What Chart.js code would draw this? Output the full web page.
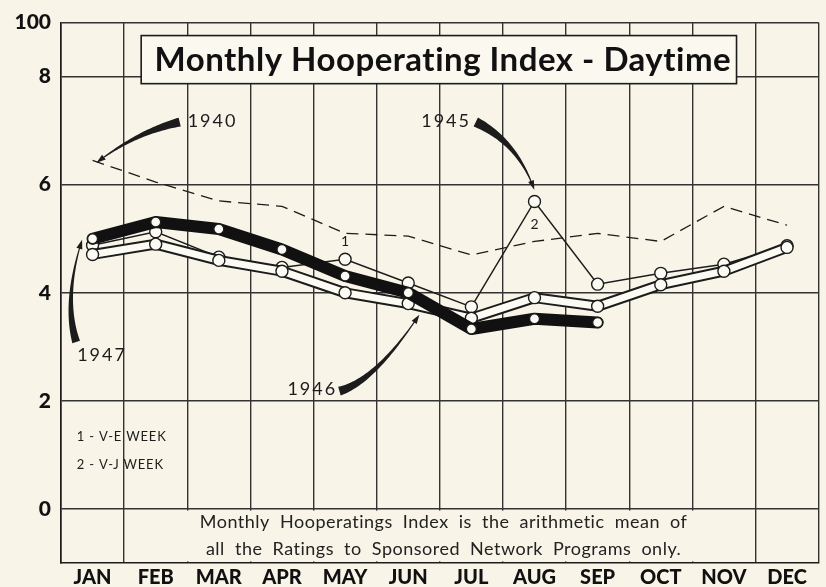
<!DOCTYPE html>
<html>
<head>
<meta charset="utf-8">
<title>Monthly Hooperating Index - Daytime</title>
<script src="https://cdn.jsdelivr.net/npm/chart.js@4.4.0/dist/chart.umd.min.js"></script>
<style>
  html, body { margin: 0; padding: 0; background: #f8f5e8; }
</style>
</head>
<body>
<canvas id="hooper" width="826" height="587"></canvas>
<script>
// 1. DATA
const months = ['JAN', 'FEB', 'MAR', 'APR', 'MAY', 'JUN', 'JUL', 'AUG', 'SEP', 'OCT', 'NOV', 'DEC'];
const y1940 = [6.45, 6.05, 5.7, 5.6, 5.1, 5.05, 4.7, 4.95, 5.1, 4.95, 5.6, 5.25];
const y1945 = [4.88, 5.13, 4.66, 4.47, 4.62, 4.18, 3.74, 5.69, 4.16, 4.36, 4.53, 4.87];
const y1946 = [4.71, 4.9, 4.6, 4.4, 4.0, 3.8, 3.53, 3.91, 3.75, 4.15, 4.4, 4.84];
const y1947 = [5.0, 5.31, 5.18, 4.8, 4.31, 4.0, 3.33, 3.52, 3.45, null, null, null];
const yTicks = [0, 2, 4, 6, 8, 9];
const yTickLabels = ['0', '2', '4', '6', '8', '100'];

const BG = '#f8f5e8';
const INK = '#1c1c1c';
const FONT = 'Lato, "DejaVu Sans", sans-serif';

// notes, placed in (month index, value) units
const arrows = [
  { label: '1940', at: [1.90, 7.18], tail: [1.38, 7.16], ctrl: [0.70, 6.97], tip: [0.10, 6.44], w: 8 },
  { label: '1945', at: [5.60, 7.18], tail: [6.07, 7.16], ctrl: [6.71, 6.80], tip: [6.98, 5.96], w: 9 },
  { label: '1946', at: [3.48, 2.22], tail: [3.91, 2.18], ctrl: [4.47, 2.37], tip: [5.15, 3.55], w: 8 },
  { label: '1947', at: [0.15, 2.85], tail: [-0.26, 3.09], ctrl: [-0.46, 3.86], tip: [-0.18, 4.93], w: 7 }
];
const titleBox = { x0: 0.77, x1: 10.2, y0: 8.76, y1: 7.87 };
const footLines = ['Monthly Hooperatings Index is the arithmetic mean of',
                   'all the Ratings to Sponsored Network Programs only.'];
const legendLines = ['1 - V-E WEEK', '2 - V-J WEEK'];

// 2. HELPERS
function at(chart, i, v) {
  const xs = chart.scales.x, ys = chart.scales.y;
  const step = xs.getPixelForValue(1) - xs.getPixelForValue(0);
  return { x: xs.getPixelForValue(0) + i * step, y: ys.getPixelForValue(v) };
}

function taperArrow(c, p0, cp, p2, w0) {
  const N = 40, left = [], right = [];
  for (let k = 0; k <= N; k++) {
    const t = k / N, u = 1 - t;
    const x = u * u * p0.x + 2 * u * t * cp.x + t * t * p2.x;
    const y = u * u * p0.y + 2 * u * t * cp.y + t * t * p2.y;
    const dx = 2 * u * (cp.x - p0.x) + 2 * t * (p2.x - cp.x);
    const dy = 2 * u * (cp.y - p0.y) + 2 * t * (p2.y - cp.y);
    const len = Math.hypot(dx, dy) || 1;
    const w = (w0 * Math.pow(u, 1.3) + 1) / 2;
    left.push([x - dy / len * w, y + dx / len * w]);
    right.push([x + dy / len * w, y - dx / len * w]);
  }
  c.beginPath();
  left.forEach((p, k) => k ? c.lineTo(p[0], p[1]) : c.moveTo(p[0], p[1]));
  right.reverse().forEach(p => c.lineTo(p[0], p[1]));
  c.closePath();
  c.fill();
  // small head
  const ang = Math.atan2(p2.y - cp.y, p2.x - cp.x);
  c.beginPath();
  c.moveTo(p2.x + Math.cos(ang) * 3, p2.y + Math.sin(ang) * 3);
  c.lineTo(p2.x - Math.cos(ang - 0.45) * 7, p2.y - Math.sin(ang - 0.45) * 7);
  c.lineTo(p2.x - Math.cos(ang + 0.45) * 7, p2.y - Math.sin(ang + 0.45) * 7);
  c.closePath();
  c.fill();
}

// 3. PLUGIN: paper, title box, footer, notes
const paper = {
  id: 'paper',
  beforeDraw(chart) {
    const c = chart.ctx;
    c.save();
    c.fillStyle = BG;
    c.fillRect(0, 0, chart.width, chart.height);
    c.restore();
  },
  beforeDatasetsDraw(chart) {
    const c = chart.ctx;
    c.save();
    // title box
    const a = at(chart, titleBox.x0, titleBox.y0), b = at(chart, titleBox.x1, titleBox.y1);
    c.fillStyle = '#faf8ef';
    c.fillRect(a.x, a.y, b.x - a.x, b.y - a.y);
    c.strokeStyle = INK;
    c.lineWidth = 1.6;
    c.strokeRect(a.x, a.y, b.x - a.x, b.y - a.y);
    c.fillStyle = '#111';
    c.font = 'bold 33px ' + FONT;
    c.letterSpacing = '0.5px';
    c.textAlign = 'center';
    c.textBaseline = 'middle';
    c.fillText('Monthly Hooperating Index - Daytime', (a.x + b.x) / 2 + 4, (a.y + b.y) / 2 + 1);
    c.letterSpacing = '0px';

    // footer panel below zero line
    const f0 = at(chart, 0.52, -0.03), f1 = at(chart, 10.45, -0.97);
    c.fillStyle = BG;
    c.fillRect(f0.x, f0.y, f1.x - f0.x, f1.y - f0.y);
    c.fillStyle = '#222';
    c.font = '18px ' + FONT;
    c.letterSpacing = '0.5px';
    c.wordSpacing = '5px';
    footLines.forEach((t, k) => {
      const p = at(chart, 5.56, -0.24 - k * 0.51);
      c.fillText(t, p.x, p.y);
    });
    c.wordSpacing = '0px';
    c.letterSpacing = '0px';
    c.restore();
  },
  afterDatasetsDraw(chart) {
    const c = chart.ctx;
    c.save();
    c.fillStyle = INK;
    c.textAlign = 'center';
    c.textBaseline = 'middle';
    c.font = '18px ' + FONT;
    c.letterSpacing = '2px';
    arrows.forEach(n => {
      const p = at(chart, n.at[0], n.at[1]);
      c.fillText(n.label, p.x, p.y);
      taperArrow(c, at(chart, n.tail[0], n.tail[1]), at(chart, n.ctrl[0], n.ctrl[1]),
                 at(chart, n.tip[0], n.tip[1]), n.w);
    });
    c.letterSpacing = '0px';
    // V-E / V-J marks on 1945
    c.font = '14px ' + FONT;
    let p = at(chart, 4, y1945[4] + 0.33);
    c.fillText('1', p.x, p.y);
    p = at(chart, 7, y1945[7] - 0.42);
    c.fillText('2', p.x, p.y);
    // key
    c.textAlign = 'left';
    c.font = '13px ' + FONT;
    c.letterSpacing = '0.8px';
    legendLines.forEach((t, k) => {
      const q = at(chart, -0.25, 1.33 - k * 0.51);
      c.fillText(t, q.x, q.y);
    });
    c.restore();
  }
};

// 4. CHART
const pointStyle = { pointBackgroundColor: '#fbfaf3', pointBorderColor: INK, pointBorderWidth: 1.4 };

new Chart(document.getElementById('hooper'), {
  type: 'line',
  data: {
    labels: months,
    datasets: [
      { label: '1940', data: y1940, borderColor: INK, borderWidth: 1.3, borderDash: [12, 7],
        pointRadius: 0, order: 6 },
      Object.assign({ label: '1945', data: y1945, borderColor: INK, borderWidth: 1.5,
        pointRadius: 6, order: 5 }, pointStyle),
      { label: '1946 edge', data: y1946, borderColor: INK, borderWidth: 11, pointRadius: 0,
        borderJoinStyle: 'round', order: 4 },
      Object.assign({ label: '1946', data: y1946, borderColor: '#fbfaf3', borderWidth: 7,
        pointRadius: 6, borderJoinStyle: 'round', order: 3 }, pointStyle),
      Object.assign({ label: '1947', data: y1947, borderColor: '#111', borderWidth: 12,
        pointRadius: 5, borderJoinStyle: 'round', borderCapStyle: 'round', order: 2 }, pointStyle)
    ]
  },
  options: {
    responsive: false,
    animation: false,
    events: [],
    layout: { padding: { top: 13, right: 1, left: 0, bottom: 0 } },
    plugins: { legend: { display: false }, tooltip: { enabled: false } },
    scales: {
      x: {
        offset: true,
        grid: { offset: true, color: '#333', lineWidth: 1.4, drawTicks: false },
        border: { color: INK, width: 1.6 },
        ticks: { color: '#111', font: { family: FONT, size: 20, weight: '900' }, padding: 3,
                 maxRotation: 0, autoSkip: false },
        afterFit: s => { s.height = 24; }
      },
      y: {
        min: -1, max: 9,
        afterBuildTicks: s => { s.ticks = yTicks.map(v => ({ value: v })); },
        grid: { color: '#333', lineWidth: 1.4, drawTicks: false },
        border: { color: INK, width: 1.6 },
        ticks: { color: '#111', font: { family: FONT, size: 21, weight: '900' }, padding: 10,
                 callback: v => yTickLabels[yTicks.indexOf(v)] },
        afterFit: s => { s.width = 61; }
      }
    }
  },
  plugins: [paper]
});
</script>
</body>
</html>
